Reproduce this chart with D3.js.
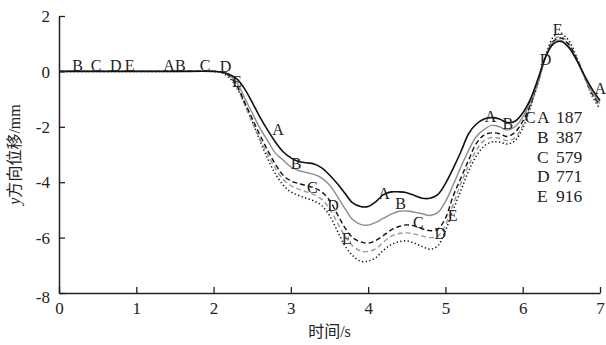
<!DOCTYPE html>
<html><head><meta charset="utf-8">
<script src="https://cdn.jsdelivr.net/npm/d3@7"></script>
<style>body{margin:0;background:#fff}svg{display:block}</style>
</head><body>
<script>
const times = [0,0.5,1,1.5,2,2.1,2.2,2.3,2.4,2.5,2.6,2.7,2.8,2.9,3.0,3.1,3.2,3.3,3.4,3.5,3.6,3.7,3.8,3.9,4.0,4.1,4.2,4.3,4.4,4.5,4.6,4.7,4.8,4.9,5.0,5.1,5.2,5.3,5.4,5.5,5.6,5.7,5.8,5.9,6.0,6.1,6.2,6.3,6.4,6.5,6.6,6.7,6.8,6.9,7.0];
const seriesA = [0,0,0,0,0,-0.02,-0.1,-0.27,-0.62,-1.12,-1.65,-2.12,-2.55,-2.9,-3.12,-3.25,-3.3,-3.34,-3.48,-3.74,-4.05,-4.4,-4.75,-4.88,-4.88,-4.7,-4.45,-4.35,-4.35,-4.38,-4.48,-4.58,-4.58,-4.45,-4.05,-3.5,-2.9,-2.25,-1.9,-1.72,-1.67,-1.72,-1.85,-1.8,-1.5,-1.0,-0.25,0.55,1.0,1.08,0.85,0.4,-0.15,-0.65,-1.05];
const seriesB = [0,0,0,0,0,-0.02,-0.12,-0.4,-0.95,-1.5,-2.05,-2.5,-2.95,-3.2,-3.45,-3.58,-3.65,-3.72,-3.85,-4.1,-4.5,-4.95,-5.35,-5.52,-5.55,-5.45,-5.3,-5.15,-5.05,-5.04,-5.08,-5.14,-5.2,-5.1,-4.7,-4.1,-3.45,-2.85,-2.35,-2.1,-1.95,-2.0,-2.12,-2.0,-1.65,-1.1,-0.3,0.55,1.05,1.12,0.88,0.4,-0.2,-0.75,-1.15];
const seriesC = [0,0,0,0,0,-0.03,-0.15,-0.5,-1.1,-1.7,-2.3,-2.85,-3.35,-3.75,-3.95,-4.05,-4.12,-4.2,-4.35,-4.65,-5.15,-5.65,-6.0,-6.15,-6.2,-6.1,-5.92,-5.72,-5.6,-5.54,-5.58,-5.68,-5.75,-5.7,-5.3,-4.5,-3.85,-3.2,-2.6,-2.3,-2.22,-2.25,-2.35,-2.2,-1.8,-1.2,-0.35,0.55,1.1,1.2,0.95,0.45,-0.2,-0.8,-1.22];
const seriesD = [0,0,0,0,0,-0.03,-0.18,-0.55,-1.2,-1.85,-2.45,-3.0,-3.5,-3.9,-4.12,-4.25,-4.35,-4.45,-4.62,-4.95,-5.45,-5.95,-6.3,-6.48,-6.5,-6.4,-6.15,-5.95,-5.85,-5.83,-5.87,-5.94,-6.0,-5.95,-5.55,-4.8,-4.05,-3.4,-2.85,-2.5,-2.38,-2.42,-2.5,-2.4,-1.95,-1.25,-0.4,0.55,1.15,1.25,1.0,0.45,-0.2,-0.85,-1.28];
const seriesE = [0,0,0,0,0,-0.05,-0.22,-0.6,-1.15,-1.8,-2.5,-3.15,-3.7,-4.1,-4.35,-4.48,-4.58,-4.68,-4.85,-5.2,-5.75,-6.3,-6.65,-6.85,-6.85,-6.72,-6.45,-6.25,-6.15,-6.12,-6.2,-6.32,-6.42,-6.3,-5.75,-5.0,-4.3,-3.6,-3.05,-2.7,-2.55,-2.55,-2.62,-2.5,-2.05,-1.3,-0.4,0.6,1.25,1.35,1.1,0.5,-0.2,-0.9,-1.35];
const seriesNames = ["A","B","C","D","E"];
const legendValues = ["187","387","579","771","916"];
const xTicks = [0,1,2,3,4,5,6,7];
const yTicks = [-8,-6,-4,-2,0,2];
// curve marker labels: [letter, time, value]
const markerLabels = [
  ["B",0.17,0],["C",0.41,0],["D",0.66,0],["E",0.85,0],
  ["A",1.35,0],["B",1.5,0],["C",1.82,0],["D",2.08,-0.03],["E",2.24,-0.55],
  ["A",2.76,-2.3],["B",3.0,-3.51],["C",3.21,-4.38],["D",3.47,-5.04],["E",3.66,-6.23],
  ["A",4.13,-4.6],["B",4.35,-4.96],["C",4.58,-5.65],["D",4.86,-6.05],["E",5.03,-5.4],
  ["A",5.51,-1.81],["B",5.74,-2.07],["C",6.03,-1.85],["D",6.22,0.22],["E",6.39,1.30],["A",6.93,-0.8]
];

const W=606,H=345;
const svg=d3.select("body").append("svg").attr("width",W).attr("height",H);
const x=d3.scaleLinear().domain([0,7]).range([59,600]);
const y=d3.scaleLinear().domain([-8,2]).range([293,16]);
const serif="'Liberation Serif','Times New Roman',serif";

const allSeries=[seriesA,seriesB,seriesC,seriesD,seriesE];
const styles=[
  {stroke:"#111",w:1.6,dash:null},
  {stroke:"#8c8c8c",w:1.4,dash:null},
  {stroke:"#111",w:1.4,dash:"5,3"},
  {stroke:"#9a9a9a",w:1.4,dash:"5,3"},
  {stroke:"#111",w:1.5,dash:"1.3,2.4"}
];
const line=d3.line().x(d=>x(d[0])).y(d=>y(d[1])).curve(d3.curveCatmullRom.alpha(0.5));
[4,3,2,1,0].forEach(i=>{
  const s=styles[i];
  svg.append("path").datum(times.map((t,k)=>[t,allSeries[i][k]]))
    .attr("d",line).attr("fill","none").attr("stroke",s.stroke)
    .attr("stroke-width",s.w).attr("stroke-dasharray",s.dash);
});

// axes
const xAxis=svg.append("g").attr("transform",`translate(0,${y(-8)})`)
  .call(d3.axisBottom(x).tickValues(xTicks).tickSize(-6).tickSizeOuter(0).tickPadding(10).tickFormat(d=>String(d)));
const yAxis=svg.append("g").attr("transform",`translate(${x(0)},0)`)
  .call(d3.axisLeft(y).tickValues(yTicks).tickSize(-6).tickSizeOuter(0).tickPadding(9).tickFormat(d=>String(d)));
[xAxis,yAxis].forEach(g=>{
  g.select(".domain").attr("stroke","#222").attr("stroke-width",1.5);
  g.selectAll(".tick line").attr("stroke","#222").attr("stroke-width",1.3);
  g.selectAll(".tick text").attr("font-family",serif).attr("font-size",17).attr("fill","#222");
});
xAxis.selectAll(".tick text").attr("y",9);
yAxis.selectAll(".tick text").attr("dy","0.33em");
yAxis.selectAll(".tick").filter(d=>d===-8).select("text").attr("dy","0.55em");

// marker labels
svg.append("g").selectAll("text").data(markerLabels).join("text")
  .attr("x",d=>x(d[1])).attr("y",d=>y(d[2]))
  .attr("font-family",serif).attr("font-size",16).attr("fill","#222")
  .text(d=>d[0]);

// legend
const lg=svg.append("g");
seriesNames.forEach((n,i)=>{
  const by=123+i*19.75;
  lg.append("text").attr("x",537).attr("y",by).attr("font-family",serif).attr("font-size",17.5).attr("fill","#222").text(n);
  lg.append("text").attr("x",556).attr("y",by).attr("font-family",serif).attr("font-size",17.5).attr("fill","#222").text(legendValues[i]);
});

// axis titles
svg.append("text").attr("x",(x(0)+x(7))/2).attr("y",337).attr("text-anchor","middle")
  .attr("font-size",16).attr("fill","#222")
  .call(t=>{t.append("tspan").attr("font-family","'Noto Sans CJK SC',sans-serif").text("时间");
           t.append("tspan").attr("font-family",serif).text("/s");});
svg.append("text").attr("transform",`translate(20,${(y(2)+y(-8))/2}) rotate(-90)`).attr("text-anchor","middle")
  .attr("font-size",16).attr("fill","#222")
  .call(t=>{t.append("tspan").attr("font-family",serif).attr("font-style","italic").text("y");
           t.append("tspan").attr("font-family","'Noto Sans CJK SC',sans-serif").text("方向位移");
           t.append("tspan").attr("font-family",serif).text("/mm");});
</script>
</body></html>
